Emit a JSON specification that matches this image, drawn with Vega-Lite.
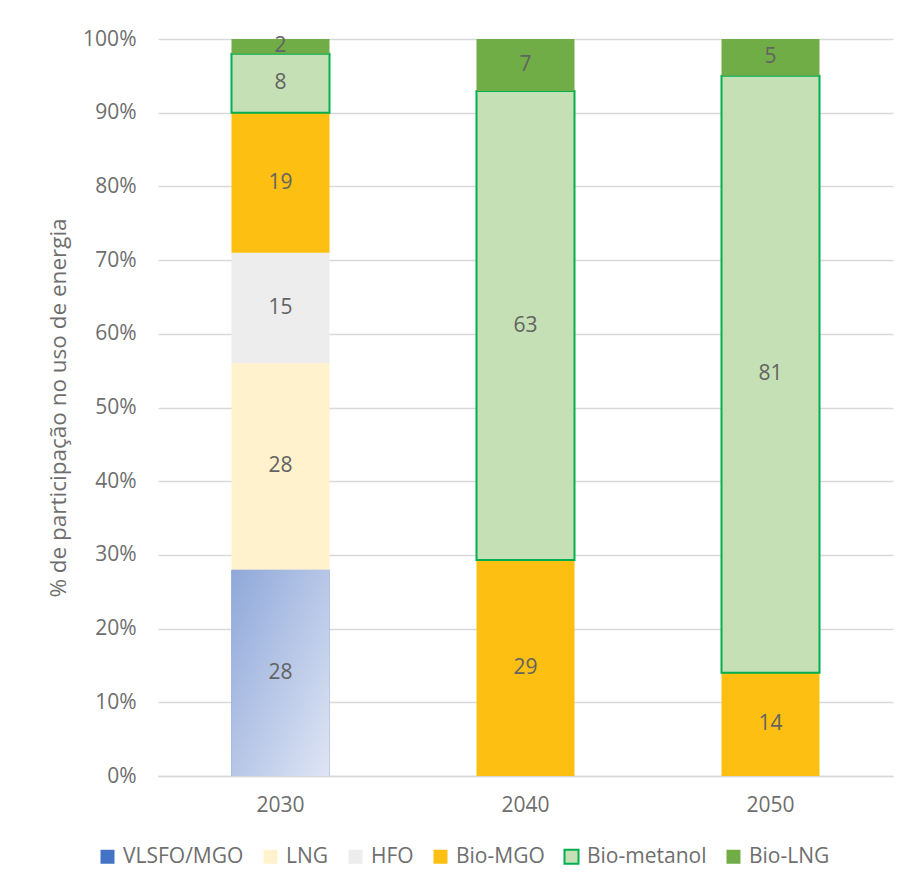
{
  "$schema": "https://vega.github.io/schema/vega-lite/v6.json",
  "width": 735,
  "height": 737,
  "autosize": {"type": "none"},
  "padding": {"left": 158, "top": 39, "right": 14, "bottom": 116},
  "background": "white",
  "config": {
    "font": "Open Sans",
    "view": {"stroke": null},
    "axis": {"labelColor": "#6e6e6e", "titleColor": "#6e6e6e", "labelFontSize": 21, "titleFontSize": 22.5, "titleFontWeight": "normal", "labelFont": "Open Sans", "titleFont": "Open Sans"},
    "legend": {"labelColor": "#6e6e6e", "labelFontSize": 21, "labelFont": "Open Sans"}
  },
  "data": {
    "values": [
      {"ano": "2030", "combustivel": "VLSFO/MGO", "ordem": 1, "valor": 28},
      {"ano": "2030", "combustivel": "LNG", "ordem": 2, "valor": 28},
      {"ano": "2030", "combustivel": "HFO", "ordem": 3, "valor": 15},
      {"ano": "2030", "combustivel": "Bio-MGO", "ordem": 4, "valor": 19},
      {"ano": "2030", "combustivel": "Bio-metanol", "ordem": 5, "valor": 8},
      {"ano": "2030", "combustivel": "Bio-LNG", "ordem": 6, "valor": 2},
      {"ano": "2040", "combustivel": "Bio-MGO", "ordem": 4, "valor": 29},
      {"ano": "2040", "combustivel": "Bio-metanol", "ordem": 5, "valor": 63},
      {"ano": "2040", "combustivel": "Bio-LNG", "ordem": 6, "valor": 7},
      {"ano": "2050", "combustivel": "Bio-MGO", "ordem": 4, "valor": 14},
      {"ano": "2050", "combustivel": "Bio-metanol", "ordem": 5, "valor": 81},
      {"ano": "2050", "combustivel": "Bio-LNG", "ordem": 6, "valor": 5}
    ]
  },
  "transform": [
    {"stack": "valor", "groupby": ["ano"], "offset": "normalize", "sort": [{"field": "ordem", "order": "ascending"}], "as": ["v0", "v1"]},
    {"calculate": "(datum.v0 + datum.v1) / 2", "as": "meio"}
  ],
  "encoding": {
    "x": {
      "field": "ano", "type": "nominal", "title": null,
      "scale": {"paddingInner": 0.6, "paddingOuter": 0.3},
      "axis": {"labelAngle": 0, "ticks": false, "domainColor": "#d9d9d9", "domainWidth": 1.5, "labelPadding": 18}
    }
  },
  "layer": [
    {
      "mark": {"type": "bar", "strokeWidth": 2},
      "encoding": {
        "y": {
          "field": "v0", "type": "quantitative",
          "title": "% de participação no uso de energia",
          "scale": {"domain": [0, 1], "nice": false},
          "axis": {"format": ".0%", "values": [0, 0.1, 0.2, 0.3, 0.4, 0.5, 0.6, 0.7, 0.8, 0.9, 1], "domain": false, "ticks": false, "gridColor": "#d9d9d9", "gridWidth": 1.5, "labelPadding": 22, "titlePadding": 12}
        },
        "y2": {"field": "v1"},
        "color": {
          "field": "combustivel", "type": "nominal", "title": null,
          "scale": {
            "domain": ["VLSFO/MGO", "LNG", "HFO", "Bio-MGO", "Bio-metanol", "Bio-LNG"],
            "range": ["#4472c4", "#fff2cc", "#ededed", "#fcbf12", "#c5e0b4", "#70ad47"]
          },
          "legend": {"orient": "none", "direction": "horizontal", "legendX": -61, "legendY": 807, "symbolType": "square", "symbolSize": 196, "symbolStrokeWidth": 2, "labelOffset": 5, "columnPadding": 15}
        },
        "stroke": {
          "field": "combustivel", "type": "nominal", "title": null,
          "scale": {
            "domain": ["VLSFO/MGO", "LNG", "HFO", "Bio-MGO", "Bio-metanol", "Bio-LNG"],
            "range": ["transparent", "transparent", "transparent", "transparent", "#00b050", "transparent"]
          }
        }
      }
    },
    {
      "transform": [{"filter": "datum.combustivel === 'VLSFO/MGO'"}],
      "mark": {
        "type": "bar",
        "fill": {
          "gradient": "linear", "x1": 0, "y1": 0, "x2": 1, "y2": 1,
          "stops": [{"offset": 0, "color": "#8fa8d9"}, {"offset": 1, "color": "#dfe5f4"}]
        }
      },
      "encoding": {
        "y": {"field": "v0", "type": "quantitative"},
        "y2": {"field": "v1"}
      }
    },
    {
      "mark": {"type": "text", "fontSize": 21, "color": "#636363", "font": "Open Sans"},
      "encoding": {
        "y": {"field": "meio", "type": "quantitative"},
        "text": {"field": "valor", "type": "quantitative"}
      }
    }
  ]
}
